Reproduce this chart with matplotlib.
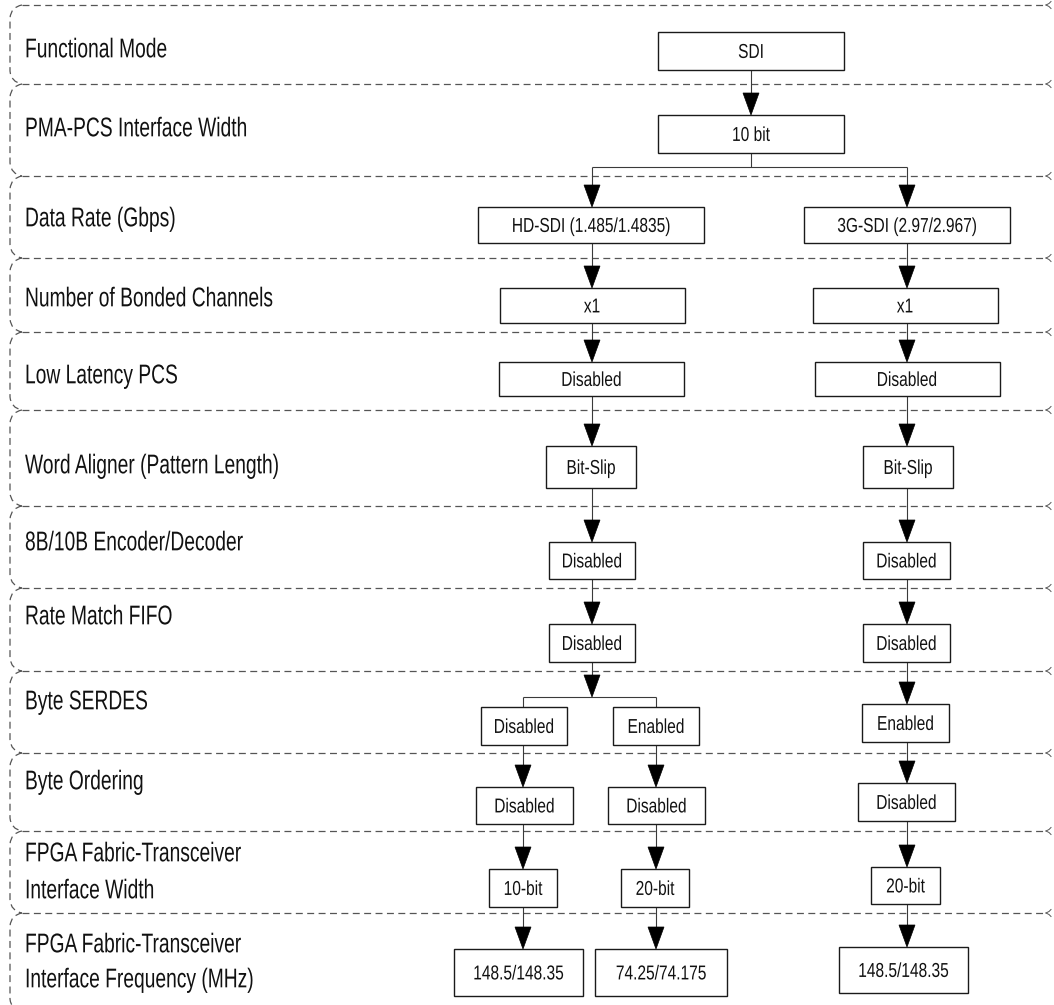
import matplotlib
matplotlib.use("Agg")
import matplotlib.pyplot as plt
from matplotlib.patches import Rectangle, Polygon, PathPatch
from matplotlib.path import Path
from matplotlib.transforms import Affine2D
from matplotlib.patheffects import AbstractPathEffect

# ---------------- data ----------------
row_labels = [
    "Functional Mode",
    "PMA-PCS Interface Width",
    "Data Rate (Gbps)",
    "Number of Bonded Channels",
    "Low Latency PCS",
    "Word Aligner (Pattern Length)",
    "8B/10B Encoder/Decoder",
    "Rate Match FIFO",
    "Byte SERDES",
    "Byte Ordering",
    "FPGA Fabric-Transceiver\nInterface Width",
    "FPGA Fabric-Transceiver\nInterface Frequency (MHz)",
]
top_nodes = ["SDI", "10 bit"]
rate_nodes = ["HD-SDI (1.485/1.4835)", "3G-SDI (2.97/2.967)"]
hd_chain = ["x1", "Disabled", "Bit-Slip", "Disabled", "Disabled"]
hd_split_a = ["Disabled", "Disabled", "10-bit", "148.5/148.35"]
hd_split_b = ["Enabled", "Disabled", "20-bit", "74.25/74.175"]
g3_chain = ["x1", "Disabled", "Bit-Slip", "Disabled", "Disabled",
            "Enabled", "Disabled", "20-bit", "148.5/148.35"]

# ---------------- layout (pixels) ----------------
W, H = 1054, 1005
sep_y = [5, 84, 176, 258, 332, 410, 506, 588, 671, 753, 831, 913, 1012]
label_y = [48, 127, 217, 297, 374, 464, 541, 615, 700, 780, (852, 889), (943, 978)]

row_box_y = [(32, 70), (115, 153), (207, 243), (288, 323), (362, 396),
             (446, 488), (542, 579), (624, 662)]
split_box_y = [(707, 745), (787, 824), (869, 907), (949, 996)]
g3_low_y = [(704, 742), (783, 821), (867, 904), (947, 993)]

X_TOP = 751
X_L, X_R = 592, 907
X_LA, X_LB = 523, 656
top_w = [186, 186]
rate_cx, rate_w = [591, 907], [226, 206]
hd_w = [185, 185, 90, 86, 86]
g3_w = [185, 185, 90, 87, 87, 87, 97, 69, 129]
g3_cx = [905, 907, 908, 906.5, 906.5, 905.5, 906.5, 905.5, 903.5]
hd_cx = [592, 591.5, 591, 592, 592]
split_a_cx, split_a_w = [524, 524.5, 523, 518.5], [86.5, 97, 68, 129]
split_b_cx, split_b_w = [656, 656.5, 655, 661], [86.5, 97, 68.5, 132]

FAM = ["Liberation Sans", "DejaVu Sans"]
LABEL_FS, LABEL_SX = 19.5, 0.71
BOX_FS, BOX_SX = 14.5, 0.77
CAP = 0.688 * 100 / 72  # cap height in px per pt

EDGE = "#1a1a1a"
LINE = "#3a3a3a"
DASH = "#555555"
TXT = "#111111"

plt.rcParams["lines.scale_dashes"] = False
fig = plt.figure(figsize=(W / 100, H / 100), dpi=100)
ax = fig.add_axes([0, 0, 1, 1])
ax.set_xlim(0, W)
ax.set_ylim(H, 0)
ax.axis("off")


class Condense(AbstractPathEffect):
    """Draw the glyphs narrower, around a fixed x (condensed type look)."""

    def __init__(self, sx, x0):
        super().__init__()
        self.sx, self.x0 = sx, x0

    def draw_path(self, renderer, gc, tpath, affine, rgbFace=None):
        xd = ax.transData.transform((self.x0, 0))[0]
        aff = affine + Affine2D().translate(-xd, 0).scale(self.sx, 1).translate(xd, 0)
        renderer.draw_path(gc, tpath, aff, rgbFace)


def text_at(x, yc, s, fs, sx, ha="center", z=4):
    ax.text(x, yc + CAP * fs / 2, s, fontsize=fs, family=FAM, ha=ha,
            va="baseline", color=TXT, zorder=z,
            path_effects=[Condense(sx, x)])


def box(cx, w, y0, y1, s):
    ax.add_patch(Rectangle((cx - w / 2, y0), w, y1 - y0, fill=True,
                           facecolor="white", edgecolor=EDGE, lw=1.0, zorder=3))
    text_at(cx, (y0 + y1) / 2, s, BOX_FS, BOX_SX)


def vline(x, ya, yb):
    ax.plot([x, x], [ya, yb], color=LINE, lw=0.8, zorder=2,
            solid_capstyle="butt")


def hline(xa, xb, y):
    ax.plot([xa, xb], [y, y], color=LINE, lw=0.8, zorder=2,
            solid_capstyle="butt")


def arrow(x, ya, yb):
    hw, hh = 8, 22
    vline(x, ya, yb - hh + 1)
    ax.add_patch(Polygon([[x - hw, yb - hh], [x + hw, yb - hh], [x, yb]],
                         closed=True, facecolor="black",
                         edgecolor="black", lw=0.5, zorder=2))


# ---------------- row frames ----------------
for y in sep_y[:-1]:
    ax.plot([22, 1046], [y, y], color=DASH, lw=0.9, dashes=(5, 3.2), zorder=1)
    ax.plot([1046, 1049, 1051], [y, y - 1.5, y - 3.5], color=DASH, lw=0.7)
    ax.plot([1046, 1049, 1051], [y, y + 1.5, y + 3.5], color=DASH, lw=0.7)

for ya, yb in zip(sep_y[:-1], sep_y[1:]):
    verts = [(22, ya), (11, ya + 2), (10, ya + 13),
             (10, yb - 13),
             (11, yb - 2), (22, yb)]
    codes = [Path.MOVETO, Path.CURVE3, Path.CURVE3, Path.LINETO,
             Path.CURVE3, Path.CURVE3]
    ax.add_patch(PathPatch(Path(verts, codes), fill=False, edgecolor=DASH,
                           lw=0.9, linestyle=(0, (5, 3.2)), zorder=1))

for lbl, ly in zip(row_labels, label_y):
    lines = lbl.split("\n")
    if isinstance(ly, tuple):
        for s, yy in zip(lines, ly):
            text_at(25, yy, s, LABEL_FS, LABEL_SX, ha="left")
    else:
        text_at(25, ly, lines[0], LABEL_FS, LABEL_SX, ha="left")

# ---------------- boxes ----------------
for i, s in enumerate(top_nodes):
    box(X_TOP, top_w[i], *row_box_y[i], s)
for i, s in enumerate(rate_nodes):
    box(rate_cx[i], rate_w[i], *row_box_y[2], s)
for i, s in enumerate(hd_chain):
    box(hd_cx[i], hd_w[i], *row_box_y[3 + i], s)
for i, s in enumerate(g3_chain):
    yy = row_box_y[3 + i] if 3 + i < len(row_box_y) else g3_low_y[3 + i - len(row_box_y)]
    box(g3_cx[i], g3_w[i], *yy, s)
for i, s in enumerate(hd_split_a):
    box(split_a_cx[i], split_a_w[i], *split_box_y[i], s)
for i, s in enumerate(hd_split_b):
    box(split_b_cx[i], split_b_w[i], *split_box_y[i], s)

# ---------------- connectors ----------------
arrow(X_TOP, row_box_y[0][1], row_box_y[1][0])
branch_y = 167
vline(X_TOP, row_box_y[1][1], branch_y)
hline(X_L, X_R, branch_y)
arrow(X_L, branch_y, row_box_y[2][0])
arrow(X_R, branch_y, row_box_y[2][0])
for r in range(2, 7):
    arrow(X_L, row_box_y[r][1], row_box_y[r + 1][0])
    arrow(X_R, row_box_y[r][1], row_box_y[r + 1][0])
split_y = 697
arrow(X_L, row_box_y[7][1], split_y)
hline(X_LA, X_LB, split_y)
vline(X_LA, split_y, split_box_y[0][0])
vline(X_LB, split_y, split_box_y[0][0])
for r in range(3):
    arrow(X_LA, split_box_y[r][1], split_box_y[r + 1][0])
    arrow(X_LB, split_box_y[r][1], split_box_y[r + 1][0])
arrow(X_R, row_box_y[7][1], g3_low_y[0][0])
for r in range(3):
    arrow(X_R, g3_low_y[r][1], g3_low_y[r + 1][0])

fig.savefig("out.png", dpi=100, facecolor="white")
